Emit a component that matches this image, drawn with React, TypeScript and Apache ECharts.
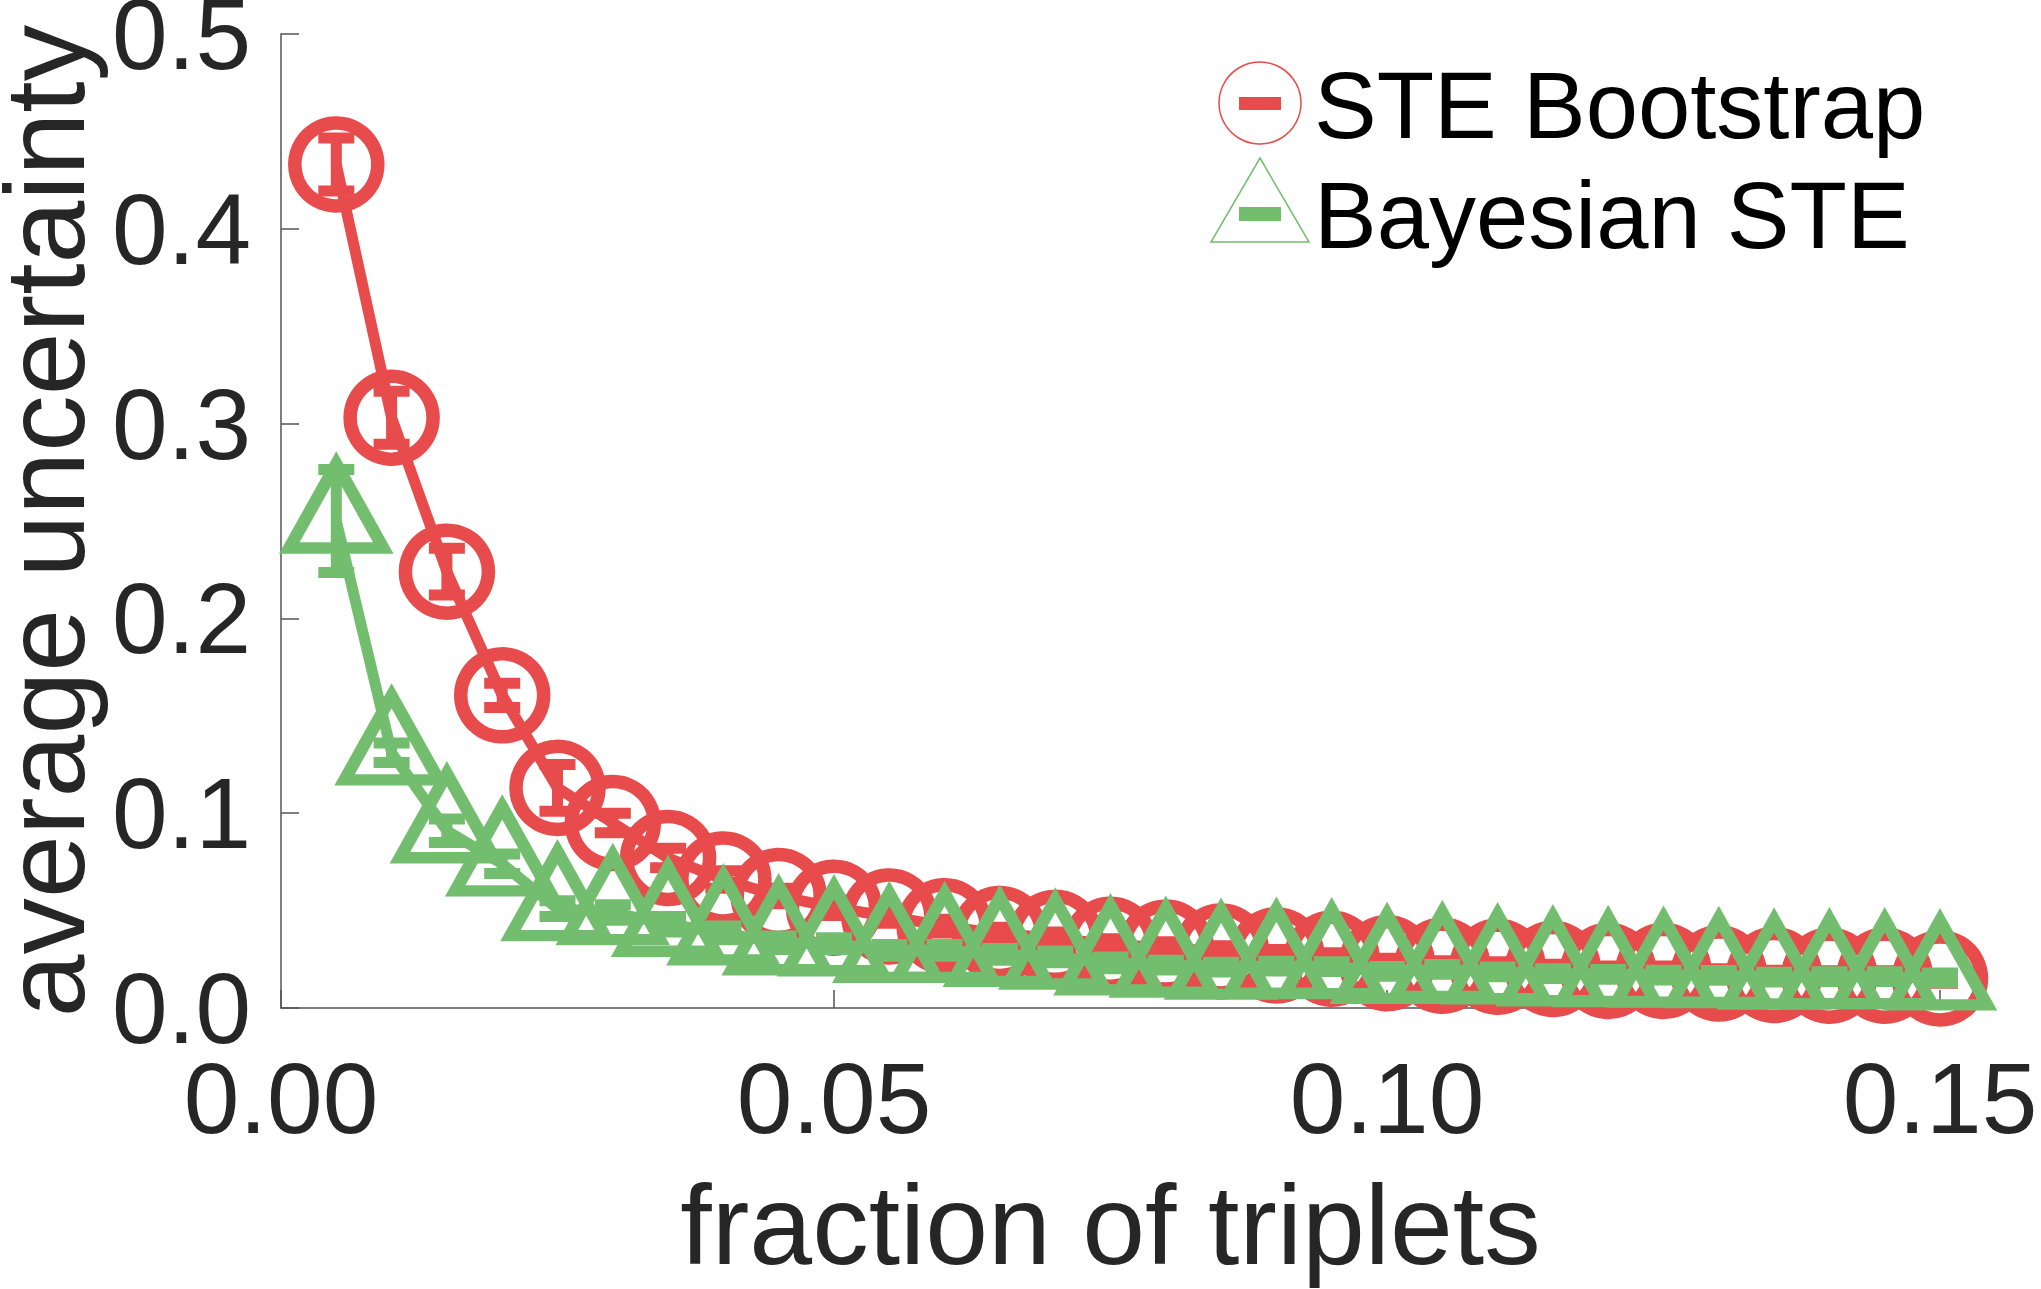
import React, { useEffect, useRef } from "react";
import * as echarts from "echarts";

const xValues = [0.005, 0.010, 0.015, 0.020, 0.025, 0.030, 0.035, 0.040, 0.045, 0.050, 0.055, 0.060, 0.065, 0.070, 0.075, 0.080, 0.085, 0.090, 0.095, 0.100, 0.105, 0.110, 0.115, 0.120, 0.125, 0.130, 0.135, 0.140, 0.145, 0.150];

const steBootstrap = [0.433, 0.303, 0.224, 0.1605, 0.113, 0.095, 0.077, 0.066, 0.0575, 0.0515, 0.047, 0.042, 0.038, 0.036, 0.0325, 0.031, 0.029, 0.027, 0.0253, 0.023, 0.0217, 0.0212, 0.020, 0.019, 0.019, 0.0177, 0.0169, 0.0166, 0.0166, 0.0152];
const steBootstrapErr = [0.0136, 0.0136, 0.012, 0.0062, 0.012, 0.005, 0.005, 0.0045, 0.004, 0.004, 0.0035, 0.0035, 0.0035, 0.003, 0.003, 0.003, 0.003, 0.003, 0.003, 0.0025, 0.0025, 0.0025, 0.0025, 0.0025, 0.0025, 0.0025, 0.0025, 0.0025, 0.0025, 0.0025];

const bayesianSte = [0.250, 0.131, 0.091, 0.074, 0.051, 0.049, 0.043, 0.0386, 0.0335, 0.033, 0.0296, 0.0296, 0.0275, 0.0262, 0.0232, 0.022, 0.021, 0.0215, 0.0212, 0.0188, 0.0198, 0.0186, 0.0176, 0.0172, 0.0169, 0.0167, 0.0159, 0.0161, 0.0161, 0.0155];
const bayesianSteErr = [0.0265, 0.005, 0.006, 0.005, 0.004, 0.004, 0.004, 0.0035, 0.0035, 0.003, 0.003, 0.003, 0.003, 0.003, 0.003, 0.0025, 0.0025, 0.0025, 0.0025, 0.0025, 0.0025, 0.0025, 0.0025, 0.0025, 0.0025, 0.0025, 0.0025, 0.0025, 0.0025, 0.0025];

const seriesNames = ["STE Bootstrap", "Bayesian STE"];
const xTicks = [0, 0.05, 0.1, 0.15];

const RED = "#E84B4B";
const GREEN = "#72BE6E";
const TEXT = "#262626";
const FONT = "'Liberation Sans', Arial, Helvetica, sans-serif";

function errorSeries(vals: number[], errs: number[], color: string, z: number) {
  return {
    type: "custom",
    z,
    clip: false,
    silent: true,
    encode: { x: 0, y: 1 },
    data: xValues.map((x, i) => [x, vals[i], errs[i]]),
    renderItem: (params: any, api: any) => {
      const x = api.value(0);
      const y = api.value(1);
      const e = api.value(2);
      const top = api.coord([x, y + e]);
      const bot = api.coord([x, y - e]);
      const cw = 18;
      const st = { stroke: color, lineWidth: 11, lineCap: "butt" };
      return {
        type: "group",
        children: [
          { type: "line", shape: { x1: top[0], y1: top[1], x2: bot[0], y2: bot[1] }, style: st },
          { type: "line", shape: { x1: top[0] - cw, y1: top[1], x2: top[0] + cw, y2: top[1] }, style: st },
          { type: "line", shape: { x1: bot[0] - cw, y1: bot[1], x2: bot[0] + cw, y2: bot[1] }, style: st },
        ],
      };
    },
  };
}

export default function App() {
  const ref = useRef<HTMLDivElement>(null);
  useEffect(() => {
    if (!ref.current) return;
    const chart = echarts.init(ref.current, null, { renderer: "svg" });
    chart.setOption({
      animation: false,
      backgroundColor: "#ffffff",
      grid: { left: 281, top: 34, right: 101, bottom: 281, containLabel: false, outerBoundsMode: "none" },
      xAxis: {
        type: "value",
        min: 0,
        max: 0.15,
        interval: 0.05,
        name: "fraction of triplets",
        nameLocation: "middle",
        nameGap: 160,
        nameTextStyle: { fontSize: 113, color: TEXT, fontFamily: FONT },
        axisLine: { show: true, onZero: false, lineStyle: { color: "#555", width: 1.5 } },
        axisTick: { show: true, inside: true, length: 18, lineStyle: { color: "#555", width: 1.5 }, customValues: xTicks },
        axisLabel: { fontSize: 100, color: TEXT, fontFamily: FONT, margin: 40, formatter: (v: number) => v.toFixed(2), customValues: xTicks },
        splitLine: { show: false },
      },
      yAxis: {
        type: "value",
        min: 0,
        max: 0.5,
        interval: 0.1,
        name: "average uncertainty",
        nameLocation: "middle",
        nameGap: 163,
        nameTextStyle: { fontSize: 113, color: TEXT, fontFamily: FONT },
        axisLine: { show: true, onZero: false, lineStyle: { color: "#555", width: 1.5 } },
        axisTick: { show: true, inside: true, length: 18, lineStyle: { color: "#555", width: 1.5 } },
        axisLabel: { fontSize: 100, color: TEXT, fontFamily: FONT, margin: 30, formatter: (v: number) => v.toFixed(1) },
        splitLine: { show: false },
      },
      series: [
        errorSeries(steBootstrap, steBootstrapErr, RED, 2),
        {
          name: seriesNames[0],
          type: "line",
          z: 3,
          clip: false,
          data: xValues.map((x, i) => [x, steBootstrap[i]]),
          symbol: "circle",
          symbolSize: 83,
          showAllSymbol: true,
          lineStyle: { color: RED, width: 11 },
          itemStyle: { color: "transparent", borderColor: RED, borderWidth: 13.5 },
        },
        errorSeries(bayesianSte, bayesianSteErr, GREEN, 4),
        {
          name: seriesNames[1],
          type: "line",
          z: 5,
          clip: false,
          data: xValues.map((x, i) => [x, bayesianSte[i]]),
          symbol: "triangle",
          symbolSize: [94, 84],
          symbolOffset: [0, -15],
          showAllSymbol: true,
          lineStyle: { color: GREEN, width: 11 },
          itemStyle: { color: "transparent", borderColor: GREEN, borderWidth: 12, borderJoin: "miter" },
        },
      ],
      graphic: [
        { type: "circle", shape: { cx: 1260, cy: 103, r: 41 }, style: { fill: "none", stroke: RED, lineWidth: 1.5 } },
        { type: "rect", shape: { x: 1239, y: 97, width: 42, height: 13 }, style: { fill: RED } },
        { type: "polygon", shape: { points: [[1260, 158], [1309, 242], [1211, 242]] }, style: { fill: "none", stroke: GREEN, lineWidth: 1.5 } },
        { type: "rect", shape: { x: 1239, y: 207, width: 42, height: 14 }, style: { fill: GREEN } },
        { type: "text", x: 1314, y: 105, style: { text: seriesNames[0], fontSize: 94, fontFamily: FONT, fill: "#000", verticalAlign: "middle" } },
        { type: "text", x: 1314, y: 215, style: { text: seriesNames[1], fontSize: 94, fontFamily: FONT, fill: "#000", verticalAlign: "middle" } },
      ],
    });
    return () => chart.dispose();
  }, []);
  return <div ref={ref} style={{ position: "absolute", left: 0, top: 0, width: 2041, height: 1289 }} />;
}
